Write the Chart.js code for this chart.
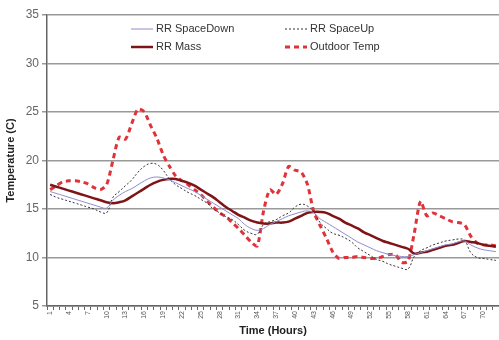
<!DOCTYPE html>
<html>
<head>
<meta charset="utf-8">
<script src="https://cdn.jsdelivr.net/npm/chart.js@4"></script>
<style>
  body { margin: 0; background: #fff; }
</style>
</head>
<body>
<canvas id="TempChart" width="499" height="340"></canvas>
<script>
var hours = [];
for (var i = 1; i <= 72; i++) hours.push(String(i));

var yTicks = [5, 10, 15, 20, 25, 30, 35];

var spaceDown = [16.8, 16.6, 16.4, 16.2, 16.0, 15.8, 15.6, 15.4, 15.2, 15.1, 15.9, 16.4, 16.8, 17.1, 17.5, 17.9, 18.2, 18.3, 18.2, 18.0,
    17.7, 17.4, 17.1, 16.8, 16.4, 16.0, 15.6, 15.2, 14.8, 14.4, 14.0, 13.4, 13.0, 12.8, 13.0, 13.4, 13.7, 14.0, 14.3, 14.5,
    14.7, 14.8, 14.6, 14.0, 13.6, 13.2, 12.8, 12.4, 12.0, 11.6, 11.3, 11.0, 10.7, 10.5, 10.3, 10.2, 10.1, 10.1, 10.3, 10.5,
    10.7, 10.9, 11.1, 11.3, 11.4, 11.6, 11.7, 11.3, 11.0, 10.8, 10.7, 10.6];

var spaceUp = [16.5, 16.2, 16.0, 15.8, 15.6, 15.4, 15.2, 15.0, 14.7, 14.6, 16.2, 16.8, 17.4, 18.0, 18.8, 19.4, 19.7, 19.6, 19.0, 18.1,
    17.5, 17.1, 16.7, 16.4, 16.0, 15.6, 15.0, 14.6, 14.2, 13.9, 13.4, 12.8, 12.5, 12.4, 13.4, 13.7, 13.9, 14.3, 14.6, 15.2,
    15.5, 15.3, 14.7, 13.6, 13.0, 12.5, 12.3, 12.0, 11.6, 11.0, 10.6, 10.2, 9.8, 9.6, 9.3, 9.1, 8.9, 8.8, 10.1, 10.7,
    11.0, 11.3, 11.5, 11.7, 11.8, 11.9, 11.8, 10.5, 10.0, 9.9, 9.8, 9.7];

var mass = [17.5, 17.3, 17.1, 16.9, 16.7, 16.5, 16.3, 16.1, 15.9, 15.7, 15.6, 15.7, 15.9, 16.3, 16.7, 17.1, 17.5, 17.8, 18.0, 18.1,
    18.1, 17.9, 17.7, 17.4, 17.0, 16.6, 16.2, 15.7, 15.2, 14.8, 14.4, 14.1, 13.8, 13.6, 13.5, 13.5, 13.6, 13.6, 13.7, 14.0,
    14.3, 14.6, 14.7, 14.7, 14.6, 14.3, 14.0, 13.6, 13.3, 13.0, 12.6, 12.3, 12.0, 11.7, 11.5, 11.3, 11.1, 10.9, 10.4, 10.5,
    10.6, 10.8, 11.0, 11.2, 11.3, 11.5, 11.7, 11.6, 11.5, 11.3, 11.2, 11.1];

var outdoor = [17.0, 17.4, 17.8, 17.9, 17.9, 17.8, 17.6, 17.2, 17.0, 17.5, 20.0, 22.4, 22.2, 23.8, 25.3, 25.0, 23.6, 22.3, 20.6, 19.4,
    18.4, 17.9, 17.5, 17.0, 16.5, 15.8, 15.2, 14.6, 14.2, 13.6, 13.0, 12.3, 11.6, 11.2, 14.8, 17.0, 16.5, 17.6, 19.4, 19.0,
    18.8, 17.5, 14.7, 13.3, 12.0, 10.6, 9.9, 10.0, 10.0, 10.1, 10.0, 9.9, 9.9, 10.1, 10.3, 10.3, 9.5, 9.6, 12.5, 15.8,
    14.3, 14.6, 14.3, 14.0, 13.7, 13.6, 13.4, 12.2, 11.5, 11.3, 11.3, 11.2];

// legend drawn inside the plot, two columns like the original
var insideLegend = {
    id: "insideLegend",
    afterDatasetsDraw: function(chart) {
        var ctx = chart.ctx;
        var spots = [[131, 29], [131, 47], [285, 29], [285, 47]];
        var order = [0, 2, 1, 3];
        ctx.save();
        ctx.font = "11px 'Liberation Sans', Arial, sans-serif";
        ctx.textBaseline = "middle";
        for (var k = 0; k < order.length; k++) {
            var ds = chart.data.datasets[order[k]];
            var p = spots[k];
            ctx.beginPath();
            ctx.strokeStyle = ds.borderColor;
            ctx.lineWidth = ds.borderWidth;
            ctx.setLineDash(ds.borderDash || []);
            ctx.moveTo(p[0], p[1]);
            ctx.lineTo(p[0] + 22, p[1]);
            ctx.stroke();
            ctx.setLineDash([]);
            ctx.fillStyle = "#333";
            ctx.fillText(ds.label, p[0] + 25, p[1]);
        }
        ctx.restore();
    }
};

var ChartTemp = {
    type: "line",
    data: {
        labels: hours,
        datasets: [{
            label: "RR SpaceDown",
            data: spaceDown,
            borderColor: "#8c8ccf",
            borderWidth: 1,
            tension: 0.4
        }, {
            label: "RR SpaceUp",
            data: spaceUp,
            borderColor: "#333333",
            borderWidth: 1,
            borderDash: [2, 2],
            tension: 0.4
        }, {
            label: "RR Mass",
            data: mass,
            borderColor: "#7f1416",
            borderWidth: 2.5,
            tension: 0.4
        }, {
            label: "Outdoor Temp",
            data: outdoor,
            borderColor: "#e0323a",
            borderWidth: 3,
            borderDash: [5, 4],
            tension: 0.25
        }]
    },
    options: {
        responsive: false,
        animation: false,
        layout: { padding: { top: 15, right: 0, left: 4, bottom: 0 } },
        elements: { point: { radius: 0 } },
        plugins: {
            legend: { display: false },
            tooltip: { enabled: false }
        },
        scales: {
            x: {
                offset: true,
                grid: { offset: true, drawOnChartArea: false, tickLength: 4, color: "#666" },
                border: { color: "#666", width: 1.5 },
                ticks: {
                    autoSkip: false,
                    minRotation: 90,
                    maxRotation: 90,
                    padding: 1,
                    color: "#555",
                    font: { size: 7, family: "'Liberation Sans', Arial, sans-serif" },
                    callback: function(v, i) { return i % 3 == 0 ? hours[i] : ""; }
                },
                title: {
                    display: true,
                    text: "Time (Hours)",
                    color: "#222",
                    padding: { top: 0, bottom: 2 },
                    font: { size: 11, weight: "bold", family: "'Liberation Sans', Arial, sans-serif" }
                },
                afterFit: function(s) {
                    s.height = 34;
                    s.paddingLeft = 0;
                    s.paddingRight = 0;
                }
            },
            y: {
                min: yTicks[0],
                max: yTicks[yTicks.length - 1],
                afterBuildTicks: function(s) { s.ticks = yTicks.map(function(v) { return { value: v }; }); },
                grid: { color: "#999", lineWidth: 1.5, tickLength: 5 },
                border: { color: "#666", width: 1.5 },
                ticks: {
                    color: "#666",
                    padding: 3,
                    font: { size: 12, family: "'Liberation Sans', Arial, sans-serif" }
                },
                title: {
                    display: true,
                    text: "Temperature (C)",
                    color: "#222",
                    padding: 0,
                    font: { size: 11, weight: "bold", family: "'Liberation Sans', Arial, sans-serif" }
                },
                afterFit: function(s) { s.width = 43; }
            }
        }
    },
    plugins: [insideLegend]
};

var TempCtx = document.getElementById("TempChart").getContext("2d");
window.TempChart = new Chart(TempCtx, ChartTemp);
</script>
</body>
</html>
